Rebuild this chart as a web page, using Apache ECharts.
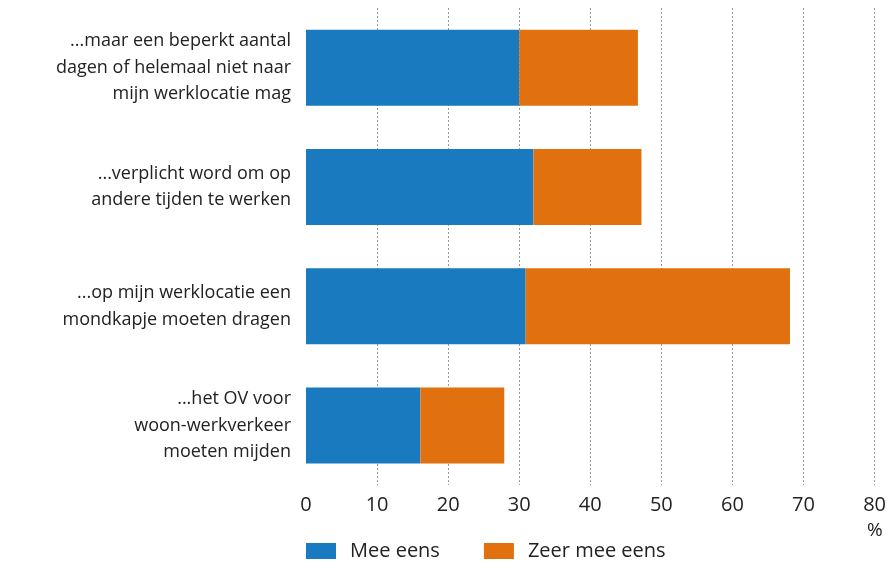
<!DOCTYPE html>
<html>
<head>
<meta charset="utf-8">
<script src="https://cdn.jsdelivr.net/npm/echarts@6/dist/echarts.min.js"></script>
<style>
  html, body { margin: 0; padding: 0; background: #fff; }
  #chart { width: 889px; height: 568px; }
</style>
</head>
<body>
<div id="chart"></div>
<script>
// categories, top to bottom as in the picture
const categories = [
  "...maar een beperkt aantal\ndagen of helemaal niet naar\nmijn werklocatie mag",
  "...verplicht word om op\nandere tijden te werken",
  "...op mijn werklocatie een\nmondkapje moeten dragen",
  "...het OV voor\nwoon-werkverkeer\nmoeten mijden"
];
const meeEens = [30, 32, 30.9, 16.1];
const zeerMeeEens = [16.7, 15.2, 37.2, 11.8];
const xTicks = [0, 10, 20, 30, 40, 50, 60, 70, 80];

const font = "Open Sans";
const chart = echarts.init(document.getElementById("chart"));

const option = {
  textStyle: { fontFamily: font },
  animation: false,
  grid: {
    left: 306,
    right: 13,
    top: 8,
    bottom: 83
  },
  legend: {
    data: ["Mee eens", "Zeer mee eens"],
    left: 301,
    bottom: 2,
    itemWidth: 30,
    itemHeight: 16,
    itemGap: 44,
    icon: "rect",
    textStyle: { fontFamily: font, fontSize: 20, color: "#222", padding: [0, 0, 0, 9] }
  },
  xAxis: {
    type: "value",
    min: xTicks[0],
    max: xTicks[xTicks.length - 1],
    interval: 10,
    axisLine: { show: false },
    axisTick: { show: false },
    axisLabel: {
      fontSize: 20,
      color: "#222",
      margin: 10
    },
    splitLine: {
      show: true,
      showMinLine: false,
      lineStyle: { color: "#999", type: [2, 2], width: 1 }
    }
  },
  yAxis: {
    type: "category",
    inverse: true,
    data: categories,
    axisLine: { show: false },
    axisTick: { show: false },
    axisLabel: {
      fontSize: 18,
      color: "#222",
      lineHeight: 26.5,
      align: "right",
      margin: 15
    }
  },
  series: [
    {
      name: "Mee eens",
      type: "bar",
      stack: "total",
      barWidth: 76,
      data: meeEens,
      itemStyle: { color: "#1a7abf" }
    },
    {
      name: "Zeer mee eens",
      type: "bar",
      stack: "total",
      barWidth: 76,
      data: zeerMeeEens,
      itemStyle: { color: "#e1700f" }
    }
  ],
  graphic: [
    {
      type: "text",
      left: 867,
      top: 521,
      style: { text: "%", fontFamily: font, fontSize: 19, fill: "#222" }
    }
  ]
};

chart.setOption(option);
</script>
</body>
</html>
